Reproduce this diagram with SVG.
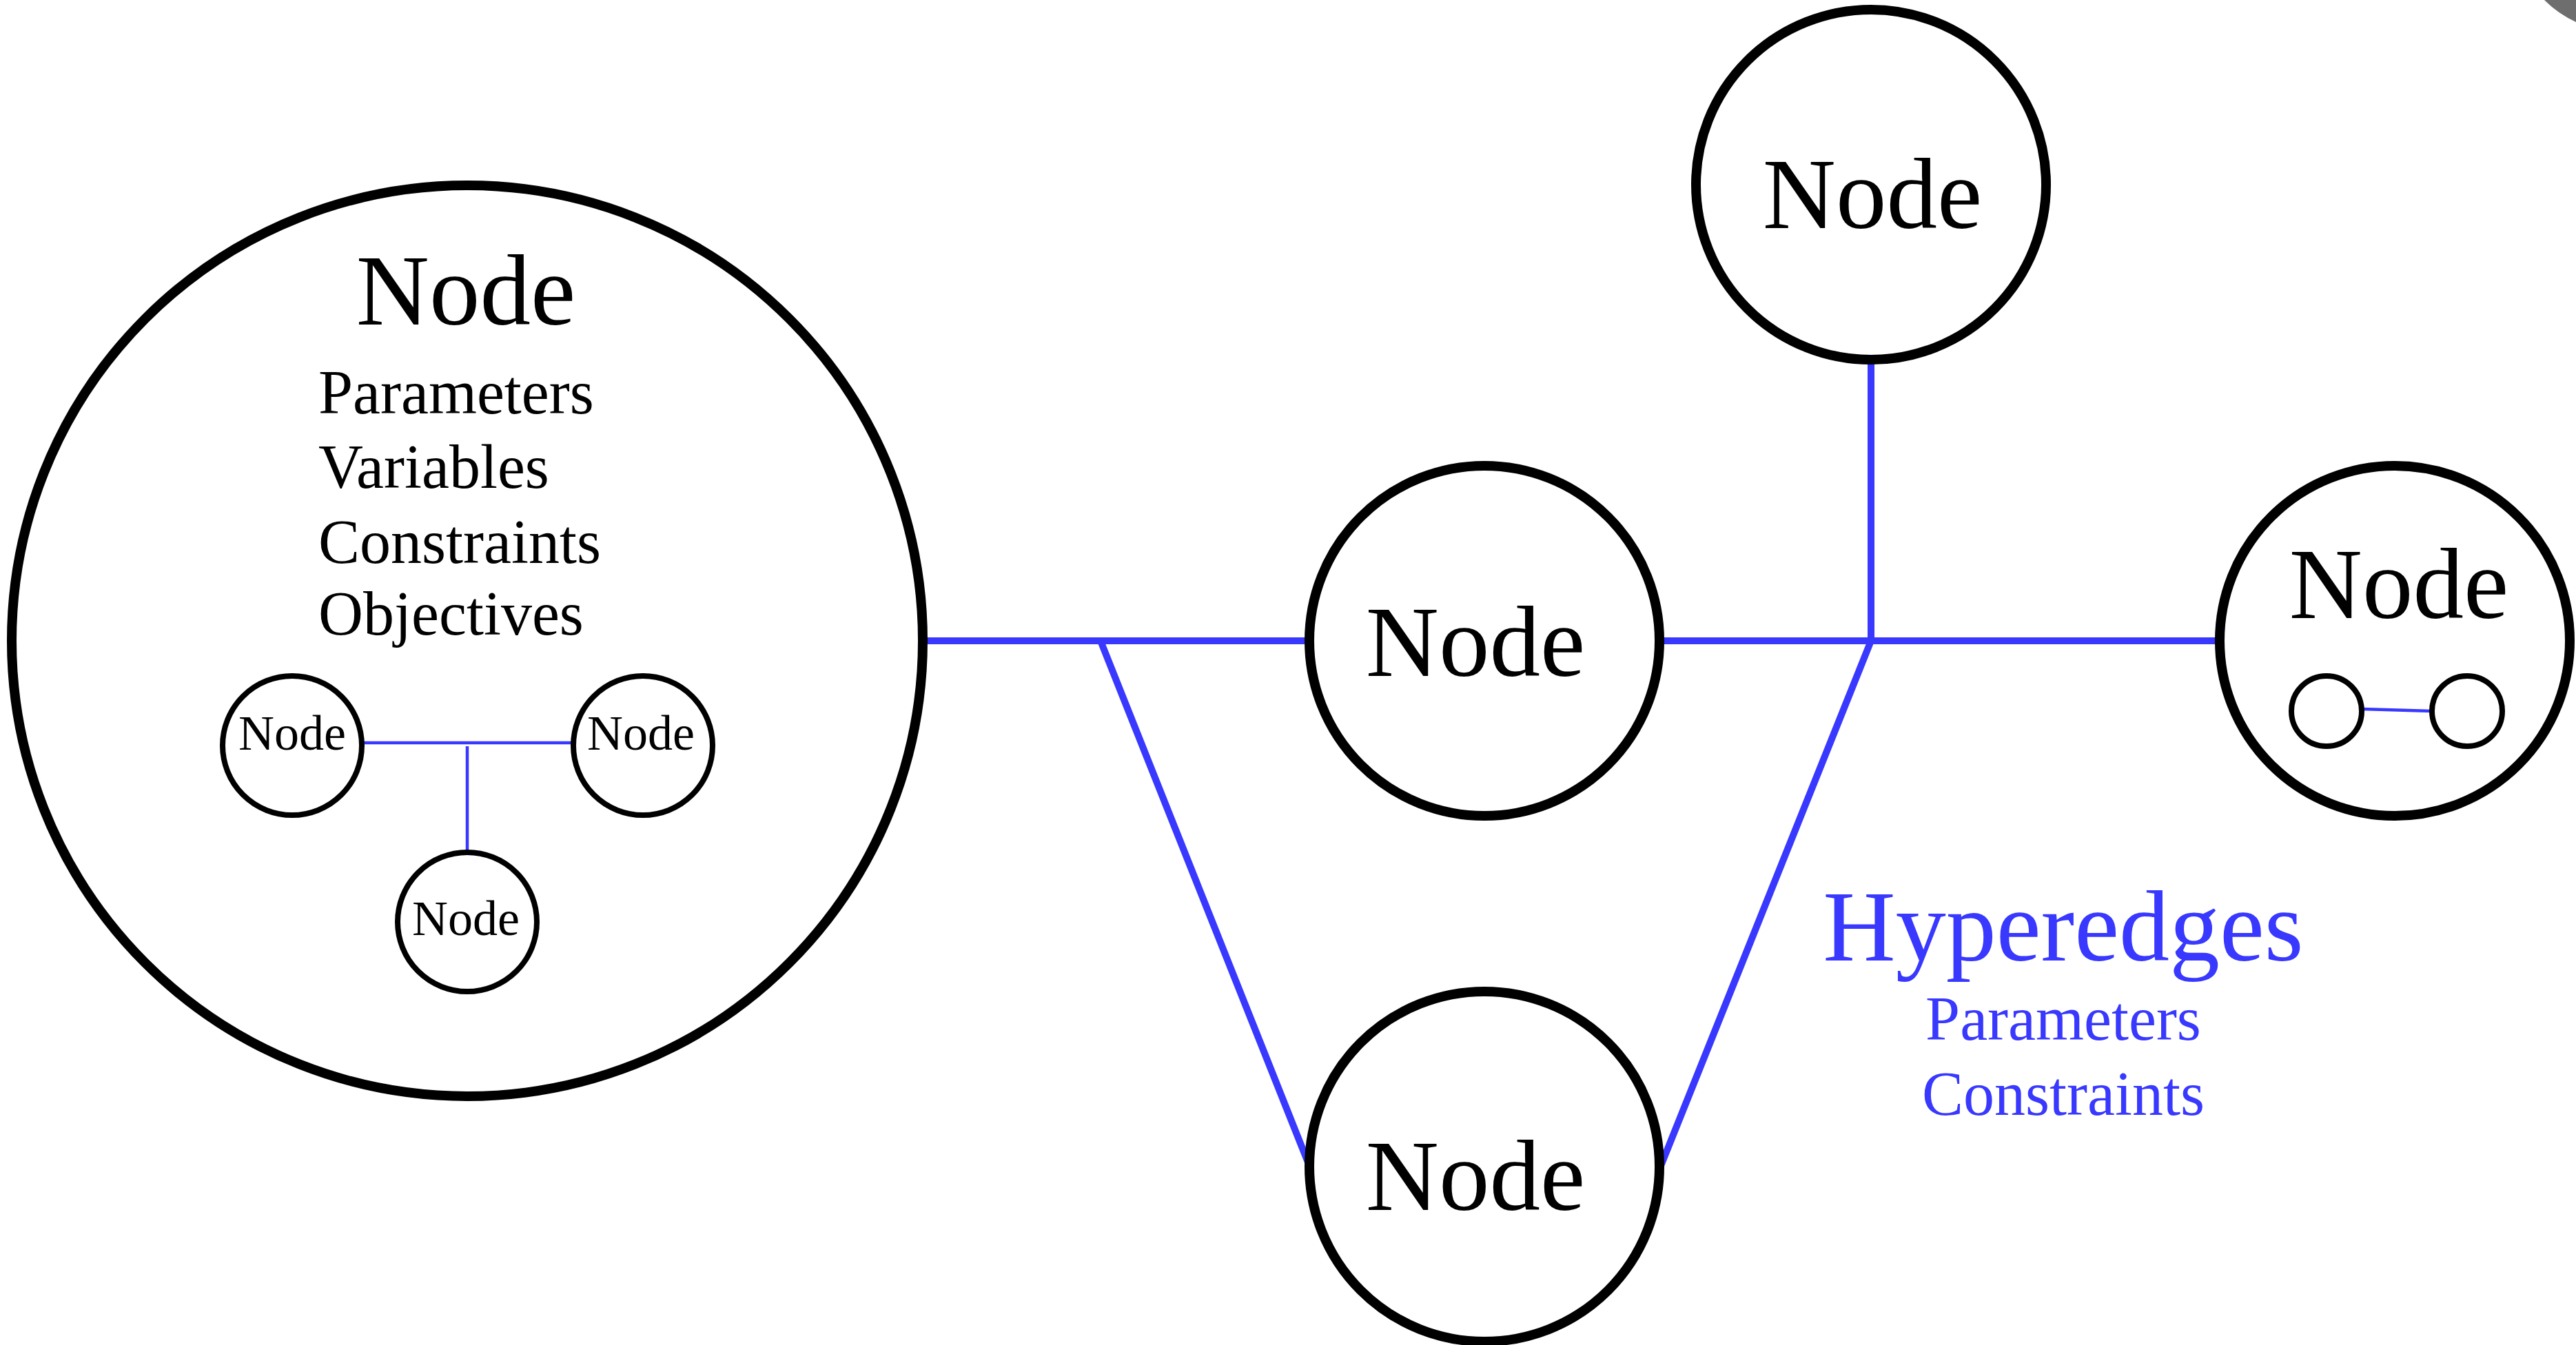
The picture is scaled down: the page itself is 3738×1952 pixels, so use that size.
<svg xmlns="http://www.w3.org/2000/svg" width="3738" height="1952" viewBox="0 0 3738 1952">
  <style>
    .node { fill: #ffffff; stroke: #000000; stroke-width: 14; }
    .sub { fill: #ffffff; stroke: #000000; stroke-width: 8; }
    .edge { stroke: #3838ff; stroke-width: 10; fill: none; }
    .subedge { stroke: #3838ff; stroke-width: 4.5; fill: none; }
    .label { font-family: "Liberation Serif", "DejaVu Serif", serif; fill: #000000; }
    .big { font-size: 147px; text-anchor: middle; }
    .small { font-size: 72px; text-anchor: middle; }
    .list { font-size: 90px; }
    .hyper { font-family: "Liberation Serif", "DejaVu Serif", serif; fill: #3838ff; text-anchor: middle; }
  </style>

  <rect x="0" y="0" width="3738" height="1952" fill="#ffffff"/>

  <!-- partial shaded shape in the top-right corner -->
  <path d="M3692,0 Q3712,20 3738,32 L3738,0 Z" fill="#6e6e6e"/>

  <!-- hyperedges between top-level nodes -->
  <g id="connectors">
    <line class="edge" x1="1340" y1="930" x2="1900" y2="930"/>
    <line class="edge" x1="1597" y1="930" x2="1900" y2="1692"/>
    <line class="edge" x1="2408" y1="930" x2="3222" y2="930"/>
    <line class="edge" x1="2715" y1="523" x2="2715" y2="930"/>
    <line class="edge" x1="2715" y1="930" x2="2410" y2="1692"/>
  </g>

  <!-- composite node with its own sub-graph -->
  <g id="node-main">
    <circle class="node" cx="678" cy="930" r="661"/>
    <text class="label big" x="676" y="471" font-size="150">Node</text>
    <text class="label list" x="462" y="600">Parameters</text>
    <text class="label list" x="462" y="708">Variables</text>
    <text class="label list" x="462" y="817">Constraints</text>
    <text class="label list" x="462" y="921">Objectives</text>
    <g id="main-subedges">
      <line class="subedge" x1="526" y1="1078" x2="830" y2="1078"/>
      <line class="subedge" x1="678" y1="1083" x2="678" y2="1234"/>
    </g>
    <g id="sub-node-left">
      <circle class="sub" cx="424" cy="1082" r="101"/>
      <text class="label small" x="424" y="1088">Node</text>
    </g>
    <g id="sub-node-right">
      <circle class="sub" cx="933" cy="1082" r="101"/>
      <text class="label small" x="930" y="1088">Node</text>
    </g>
    <g id="sub-node-bottom">
      <circle class="sub" cx="678" cy="1338" r="101"/>
      <text class="label small" x="676" y="1357">Node</text>
    </g>
  </g>

  <g id="node-middle">
    <circle class="node" cx="2154" cy="930" r="254"/>
    <text class="label big" x="2141" y="981">Node</text>
  </g>

  <g id="node-top">
    <circle class="node" cx="2715" cy="268" r="254"/>
    <text class="label big" x="2717" y="331">Node</text>
  </g>

  <g id="node-right">
    <circle class="node" cx="3475" cy="930" r="254"/>
    <text class="label big" x="3481" y="897">Node</text>
    <line class="subedge" x1="3428" y1="1029" x2="3529" y2="1032"/>
    <circle class="sub" cx="3376" cy="1032" r="51"/>
    <circle class="sub" cx="3580" cy="1032" r="51"/>
  </g>

  <g id="node-bottom">
    <circle class="node" cx="2154" cy="1693" r="254"/>
    <text class="label big" x="2141" y="1756">Node</text>
  </g>

  <g id="hyperedge-legend">
    <text class="hyper" x="2994" y="1394" font-size="146">Hyperedges</text>
    <text class="hyper" x="2994" y="1509" font-size="90">Parameters</text>
    <text class="hyper" x="2994" y="1618" font-size="90">Constraints</text>
  </g>
</svg>
